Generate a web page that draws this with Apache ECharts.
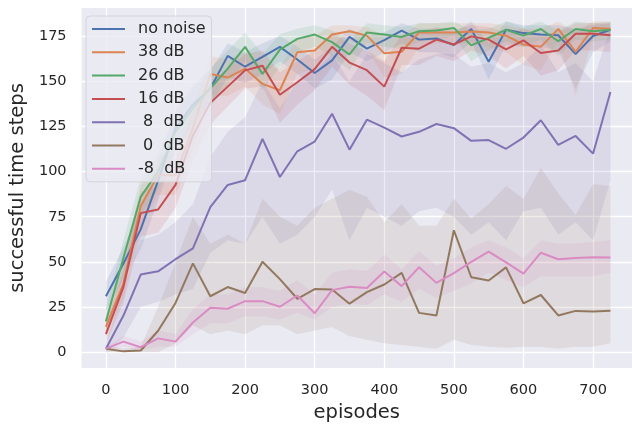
<!DOCTYPE html>
<html>
<head>
<meta charset="utf-8">
<script src="https://cdn.jsdelivr.net/npm/echarts@6/dist/echarts.min.js"></script>
<style>
html,body{margin:0;padding:0;background:#fff;}
#c{width:632px;height:428px;}
</style>
</head>
<body>
<div id="c"></div>
<script>
const episodes = [0,25,50,75,100,125,150,175,200,225,250,275,300,325,350,375,400,425,450,475,500,525,550,575,600,625,650,675,700,725];
const yTicks = [0,25,50,75,100,125,150,175];
const xTicks = [0,100,200,300,400,500,600,700];
const labels = ['no noise','38 dB','26 dB','16 dB',' 8  dB',' 0  dB','-8  dB'];
const colors = ['#4c72b0','#dd8452','#55a868','#c44e52','#8172b3','#937860','#da8bc3'];

const noNoise = [31,49,68,95,124,137,146,164,158,163.5,169,162,154.5,161.5,174.5,168,172.7,178,173,173.6,170,178.9,160.8,178.5,176.6,175.9,175.4,165,175,178.5];
const noNoiseLo = [23,40,57,84,112,127,137,152,149,154,161,154,146,151,166,161,166,171,166,166,163,172,151,170,169,169,167,146,166,172];
const noNoiseHi = [39,58,80,106,134,148,156,171,166,171,175,169,162,169,179,175,177,182,179,179,177,183,171,183,181,181,181,179,181,182];

const db38 = [14,38,81,98,98,124,154,152,157,148.5,145,166,167,175.8,177.6,175.2,165.4,166.3,177,177,177,177.5,177,175.2,170.3,169,178.9,166.3,179.4,179];
const db38Lo = [9,30,70,87,87,112,142,142,147,137,132,154,157,169,172,168,152,154,169,171,171,171,169,166,159,156,172,142,174,175];
const db38Hi = [21,48,92,108,110,136,164,162,166,159,157,174,175,181,181,180,175,175,182,182,182,182,182,181,179,179,183,177,183,183];

const db26 = [17,52,86,100,122,135,146,157,169,154,167.5,173.4,175.8,171.6,164.8,177,175.8,174.5,177.6,178,179.4,169.8,173.9,178.5,175.2,178.9,172.1,178.9,177.6,178.5];
const db26Lo = [11,42,76,90,111,124,136,148,161,145,158,166,169,164,156,171,169,168,172,173,175,161,167,172,169,173,164,173,172,173];
const db26Hi = [24,62,96,110,132,146,157,167,177,165,176,179,181,178,173,182,181,180,182,182,183,178,179,183,180,183,178,183,182,183];

const db16 = [10,36,77,79,92.6,120,138,147,156,158.5,142.5,149.4,156.7,169,160.3,156.1,147,168.5,168,173,170.3,174.8,173,167.6,172.6,165.6,167,176.3,176.3,175.4];
const db16Lo = [5,27,64,66,80,106,126,136,146,147,127,137,145,158,148,142,134,159,159,164,161,167,164,157,164,153,156,167,167,166];
const db16Hi = [16,45,89,92,106,133,149,157,165,167,155,161,167,177,171,167,161,176,176,180,178,181,180,177,179,176,177,182,182,182];

const db8 = [2,20.2,43,44.8,51.5,57.5,80.3,92.6,95.2,118.1,97,111.2,116.6,132,112.1,128.7,124.3,119.4,122,126.3,124,117,117.4,112.6,118.8,128.4,114.8,119.7,109.9,144];
const db8Lo = [0,8,25,28,32,35,55,62,60,75,60,65,75,90,62,80,75,70,78,80,75,65,72,62,78,80,65,72,62,95];
const db8Hi = [5,35,62,65,72,82,108,122,130,150,135,150,155,165,150,165,160,155,162,165,165,158,160,155,160,170,155,160,150,180];

const db0 = [2,0.5,1,11.9,27.3,49.2,31,36.1,32.8,50.1,40.5,29.6,35,34.7,26.9,33.3,37.5,43.9,21.8,20.4,67.5,41.5,39.7,47,27.1,31.7,20.4,22.9,22.5,23];
const db0Lo = [0,0,0,0,5,15,10,12,10,15,15,10,12,14,9,7,5,4,3,2,7,4,3,2.5,3,3,2,3,3,5];
const db0Hi = [4,2,3,25,50,75,60,65,60,85,75,70,80,85,90,86,72,82,70,70,85,74,82,92,85,102,88,76,93,92];

const dbm8 = [2,5.9,2.8,7.7,5.9,16.5,24.7,24.1,28.3,28.3,25.2,31.4,21.6,34.4,36.2,35.6,44.7,36.6,47.1,38.4,43.8,50,55.7,49.7,43.5,55.1,51.5,52.2,52.6,52.4];
const dbm8Lo = [1,3,1,3,3,10,16,16,20,20,18,22,18,25,27,26,32,28,35,30,34,38,44,40,36,42,42,42,42,44];
const dbm8Hi = [3,9,6,12,10,24,32,32,36,36,34,40,32,44,46,45,54,46,56,48,52,58,62,58,52,62,60,60,61,62];

const means = [noNoise, db38, db26, db16, db8, db0, dbm8];
const lows = [noNoiseLo, db38Lo, db26Lo, db16Lo, db8Lo, db0Lo, dbm8Lo];
const highs = [noNoiseHi, db38Hi, db26Hi, db16Hi, db8Hi, db0Hi, dbm8Hi];

const series = [];
means.forEach((m, k) => {
  const lo = lows[k], hi = highs[k];
  series.push({
    type: 'custom', name: 'band' + k, silent: true, z: 1,
    data: episodes.map((x, i) => [x, lo[i], hi[i]]),
    encode: { x: 0, y: [1, 2] },
    renderItem: function (params, api) {
      if (params.dataIndex !== 0) return null;
      const pts = [];
      for (let i = 0; i < episodes.length; i++) pts.push(api.coord([episodes[i], hi[i]]));
      for (let i = episodes.length - 1; i >= 0; i--) pts.push(api.coord([episodes[i], lo[i]]));
      return {
        type: 'polygon',
        shape: { points: pts },
        style: { fill: colors[k], opacity: 0.14 }
      };
    }
  });
});
means.forEach((m, k) => {
  series.push({
    type: 'line', name: labels[k], symbol: 'none', z: 3,
    lineStyle: { width: 2, color: colors[k] },
    itemStyle: { color: colors[k] },
    data: episodes.map((x, i) => [x, m[i]])
  });
});

const chart = echarts.init(document.getElementById('c'), null, { renderer: 'canvas' });
chart.setOption({
  animation: false,
  textStyle: { fontFamily: 'DejaVu Sans' },
  grid: { left: 78, right: 0, top: 8, bottom: 55, show: true, backgroundColor: '#eaeaf2', borderWidth: 0 },
  xAxis: {
    type: 'value', min: -35, max: 756,
    name: 'episodes', nameLocation: 'middle', nameGap: 35,
    nameTextStyle: { fontSize: 19.5, color: '#262626', fontFamily: 'DejaVu Sans' },
    axisLine: { show: false }, axisTick: { show: false, customValues: xTicks },
    axisLabel: { customValues: xTicks, fontSize: 14.5, color: '#262626', margin: 15, fontFamily: 'DejaVu Sans' },
    splitLine: { show: true, lineStyle: { color: '#ffffff', width: 1.3 } }
  },
  yAxis: {
    type: 'value', min: -8.7, max: 190.5,
    name: 'successful time steps', nameLocation: 'middle', nameGap: 46,
    nameTextStyle: { fontSize: 19.5, color: '#262626', fontFamily: 'DejaVu Sans' },
    axisLine: { show: false }, axisTick: { show: false, customValues: yTicks },
    axisLabel: { customValues: yTicks, fontSize: 14.5, color: '#262626', margin: 15, fontFamily: 'DejaVu Sans' },
    splitLine: { show: true, lineStyle: { color: '#ffffff', width: 1.3 } }
  },
  legend: {
    data: labels.map((n, k) => ({ name: n, icon: 'path://M0 0H33V2H0Z', itemStyle: { color: colors[k] } })),
    orient: 'vertical',
    left: 86, top: 16,
    padding: [5, 6, 5, 6],
    itemWidth: 33, itemHeight: 16, itemGap: 7.3,
    backgroundColor: 'rgba(234,234,242,0.8)',
    borderColor: '#d4d4dc', borderWidth: 1, borderRadius: 4,
    textStyle: { fontSize: 16, color: '#262626', fontFamily: 'DejaVu Sans', padding: [0, 0, 0, 8], lineHeight: 16 }
  },
  series: series
});
</script>
</body>
</html>
